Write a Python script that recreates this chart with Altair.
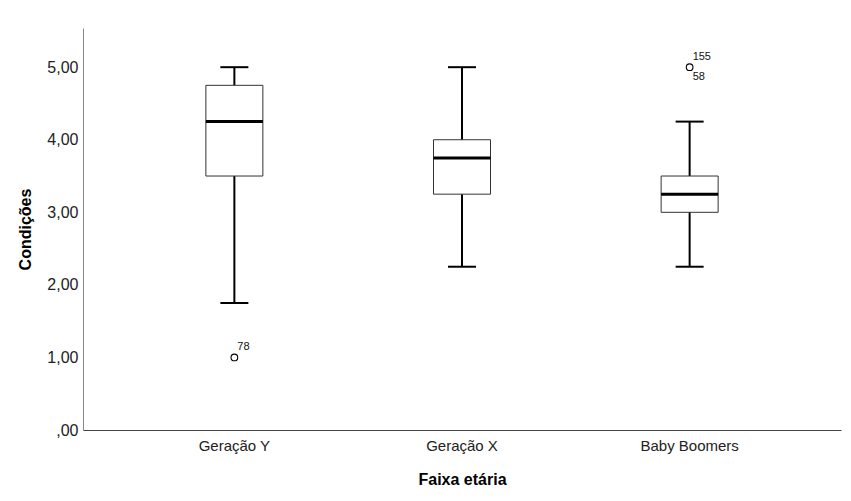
import altair as alt
import pandas as pd

categories = ["Geração Y", "Geração X", "Baby Boomers"]
mins = [1.75, 2.25, 2.25]
q1s = [3.50, 3.25, 3.00]
medians = [4.25, 3.75, 3.25]
q3s = [4.75, 4.00, 3.50]
maxs = [5.00, 5.00, 4.25]

out_cat = ["Geração Y", "Baby Boomers"]
out_val = [1.00, 5.00]

lab_cat = ["Geração Y", "Baby Boomers", "Baby Boomers"]
lab_val = [1.00, 5.00, 5.00]
lab_text = ["78", "155", "58"]
lab_pos = ["above", "above", "below"]

box = pd.DataFrame({"cat": categories, "lo": mins, "q1": q1s, "med": medians, "q3": q3s, "hi": maxs})
outs = pd.DataFrame({"cat": out_cat, "v": out_val})
labs = pd.DataFrame({"cat": lab_cat, "v": lab_val, "t": lab_text, "pos": lab_pos})

FONT = "Liberation Sans"

x = alt.X("cat:N", sort=categories, title="Faixa etária",
          scale=alt.Scale(paddingInner=0, paddingOuter=0.165),
          axis=alt.Axis(labelAngle=0, ticks=False, domainColor="#444444", domainWidth=1,
                        labelFontSize=15, labelColor="#222222", labelFont=FONT, labelPadding=8,
                        titleFont=FONT, titleFontSize=16, titleFontWeight="bold", titlePadding=18,
                        titleColor="#000000"))
yscale = alt.Scale(domain=[0, 5.54], nice=False, zero=True)
yaxis = alt.Axis(values=[0, 1, 2, 3, 4, 5], ticks=False, grid=False, domainColor="#888888",
                 labelExpr="datum.value == 0 ? ',00' : replace(format(datum.value, '.2f'), '.', ',')",
                 labelFontSize=16, labelColor="#222222", labelFont=FONT, labelPadding=5,
                 titleFont=FONT, titleFontSize=16, titleFontWeight="bold", titlePadding=13,
                 titleColor="#000000")

base = alt.Chart(box)
whisker = base.mark_rule(color="black", strokeWidth=2).encode(
    x=x, y=alt.Y("lo:Q", scale=yscale, axis=yaxis, title="Condições"), y2="hi:Q")
caps_lo = base.mark_tick(color="black", size=28, thickness=2, opacity=1).encode(x=x, y=alt.Y("lo:Q", scale=yscale))
caps_hi = base.mark_tick(color="black", size=28, thickness=2, opacity=1).encode(x=x, y=alt.Y("hi:Q", scale=yscale))
boxes = base.mark_bar(size=57, fill="white", stroke="#333333", strokeWidth=1, opacity=1).encode(
    x=x, y=alt.Y("q1:Q", scale=yscale), y2="q3:Q")
med = base.mark_tick(color="black", size=57, thickness=3, opacity=1).encode(x=x, y=alt.Y("med:Q", scale=yscale))

pts = alt.Chart(outs).mark_point(shape="circle", filled=False, color="black", size=45, strokeWidth=1.1, opacity=1).encode(
    x=x, y=alt.Y("v:Q", scale=yscale))

above = alt.Chart(labs).transform_filter("datum.pos == 'above'").mark_text(
    align="left", baseline="bottom", dx=3, dy=-5, fontSize=11, font=FONT, color="#111111").encode(
    x=x, y=alt.Y("v:Q", scale=yscale), text="t:N")
below = alt.Chart(labs).transform_filter("datum.pos == 'below'").mark_text(
    align="left", baseline="top", dx=3, dy=4, fontSize=11, font=FONT, color="#111111").encode(
    x=x, y=alt.Y("v:Q", scale=yscale), text="t:N")

chart = alt.layer(whisker, caps_lo, caps_hi, boxes, med, pts, above, below).properties(
    width=758, height=402,
    autosize=alt.AutoSizeParams(type="none"),
    padding={"left": 75, "top": 20, "right": 2, "bottom": 60},
    background="white",
).configure_view(strokeWidth=0, stroke="transparent")

chart.save("out.html", embed_options={"renderer": "svg", "actions": False})
